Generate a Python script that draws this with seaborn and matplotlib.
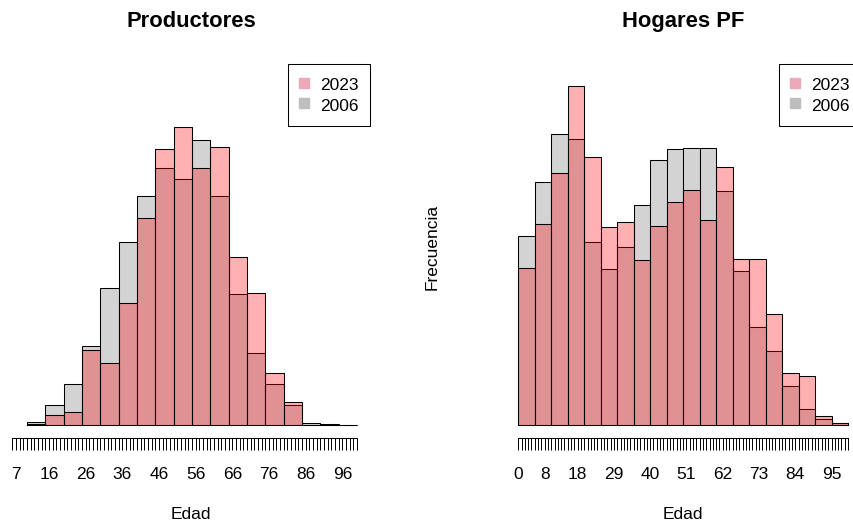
import matplotlib
matplotlib.use("Agg")
import matplotlib.pyplot as plt
import seaborn as sns
from matplotlib.lines import Line2D

# ---------------- data ----------------
# Productores: 5-year age bins from 10 to 100 (relative frequency, arbitrary units)
prod_edges = list(range(10, 101, 5))
prod_2006 = [3.3, 20, 41, 79, 136.7, 182.7, 229.3, 256.7, 245.7, 285,
             229.3, 131, 71.7, 40.7, 20, 2.3, 1.0, 0.3]
prod_2023 = [0.6, 10, 13.3, 75, 62.3, 121.7, 207.3, 276, 298.3, 257.3,
             278.3, 168.3, 131.7, 51.7, 23.3, 0.5, 0.3, 0.2]
prod_tick_range = (6, 100)
prod_tick_labels = [7, 16, 26, 36, 46, 56, 66, 76, 86, 96]

# Hogares PF: 5-year age bins from 0 to 100
hog_edges = list(range(0, 101, 5))
hog_2006 = [189, 243, 290.7, 286.3, 183.3, 155.7, 178, 219.7, 265, 276.3,
            277.3, 277.3, 234, 153.7, 97.7, 73.7, 39, 15.7, 5.7, 2.0]
hog_2023 = [157.3, 201, 252.3, 339, 268.3, 198, 203, 164.7, 199.3, 222.7,
            234.7, 204.7, 258, 165.7, 165.7, 111, 52.3, 49.3, 9, 2.3]
hog_tick_range = (0, 100)
hog_tick_labels = [0, 8, 18, 29, 40, 51, 62, 73, 84, 95]

series_names = ["2023", "2006"]
titles = ["Productores", "Hogares PF"]

# ---------------- style ----------------
sns.set_style("white")
plt.rcParams["font.family"] = ["Liberation Sans", "DejaVu Sans"]
plt.rcParams["text.color"] = "black"
plt.rcParams["axes.labelcolor"] = "black"
plt.rcParams["xtick.color"] = "black"
plt.rcParams["xtick.labelcolor"] = "black"

W, H = 854, 521
fig = plt.figure(figsize=(W / 100, H / 100), dpi=100)
fig.patch.set_facecolor("white")

AX_TOP, AX_BOT = 64, 438


def make_ax(x0, x1):
    return fig.add_axes([x0 / W, (H - AX_BOT) / H, (x1 - x0) / W, (AX_BOT - AX_TOP) / H])


FS = 12.5
GRAY = "#D3D3D3"


def draw_panel(ax, edges, v2006, v2023, xlim, tick_range, tick_labels, title):
    centers = [(a + b) / 2 for a, b in zip(edges[:-1], edges[1:])]
    sns.histplot(x=centers, weights=v2006, bins=edges, ax=ax, color=GRAY, alpha=1,
                 edgecolor="black", linewidth=0.75)
    sns.histplot(x=centers, weights=v2023, bins=edges, ax=ax, color="red", alpha=0.31,
                 edgecolor="black", linewidth=0.75)
    ax.set_xlim(*xlim)
    ax.set_ylim(-13, 361)
    for s in ["top", "right", "left"]:
        ax.spines[s].set_visible(False)
    ax.spines["bottom"].set_bounds(tick_range[0], tick_range[1])
    ax.spines["bottom"].set_linewidth(0.75)
    ax.spines["bottom"].set_color("black")
    ticks = list(range(tick_range[0], tick_range[1] + 1))
    ax.set_xticks(ticks)
    ax.set_xticklabels([str(t) if t in tick_labels else "" for t in ticks])
    ax.tick_params(axis="x", direction="out", length=8.6, width=0.7, pad=12.5,
                   labelsize=FS, color="black", labelcolor="black", bottom=True)
    ax.set_yticks([])
    ax.set_ylabel("")
    ax.set_title(title, fontsize=15.8, fontweight="bold", pad=26.5, color="black")
    ax.set_xlabel("Edad", fontsize=FS, color="black")
    ax.xaxis.label.set_va("baseline")
    ax.xaxis.set_label_coords(0.5, (AX_BOT - 519) / (AX_BOT - AX_TOP))
    handles = [Line2D([], [], ls="none", marker="s", markersize=6.5,
                      color=c) for c in ["#EEA9B8", "#BEBEBE"]]
    leg = ax.legend(handles, series_names, loc="upper right", bbox_to_anchor=(1, 1),
                    borderaxespad=0, fancybox=False, framealpha=1, edgecolor="black",
                    fontsize=FS, borderpad=0.69, handlelength=0.46, handletextpad=0.7,
                    handleheight=1.15, labelspacing=0.15)
    leg.get_frame().set_linewidth(0.75)
    for t in leg.get_texts():
        t.set_color("black")


ax1 = make_ax(12.3, 370.2)
draw_panel(ax1, prod_edges, prod_2006, prod_2023, (6, 103.6), prod_tick_range,
           prod_tick_labels, titles[0])

ax2 = make_ax(505.1, 861.2)
draw_panel(ax2, hog_edges, hog_2006, hog_2023, (-4, 104), hog_tick_range,
           hog_tick_labels, titles[1])
ax2.set_ylabel("Frecuencia", fontsize=FS, color="black")
ax2.yaxis.label.set_va("center")
ax2.yaxis.set_label_coords((431.7 - 505.1) / (861.2 - 505.1), (AX_BOT - 247) / (AX_BOT - AX_TOP))

fig.savefig("out.png", dpi=100)
